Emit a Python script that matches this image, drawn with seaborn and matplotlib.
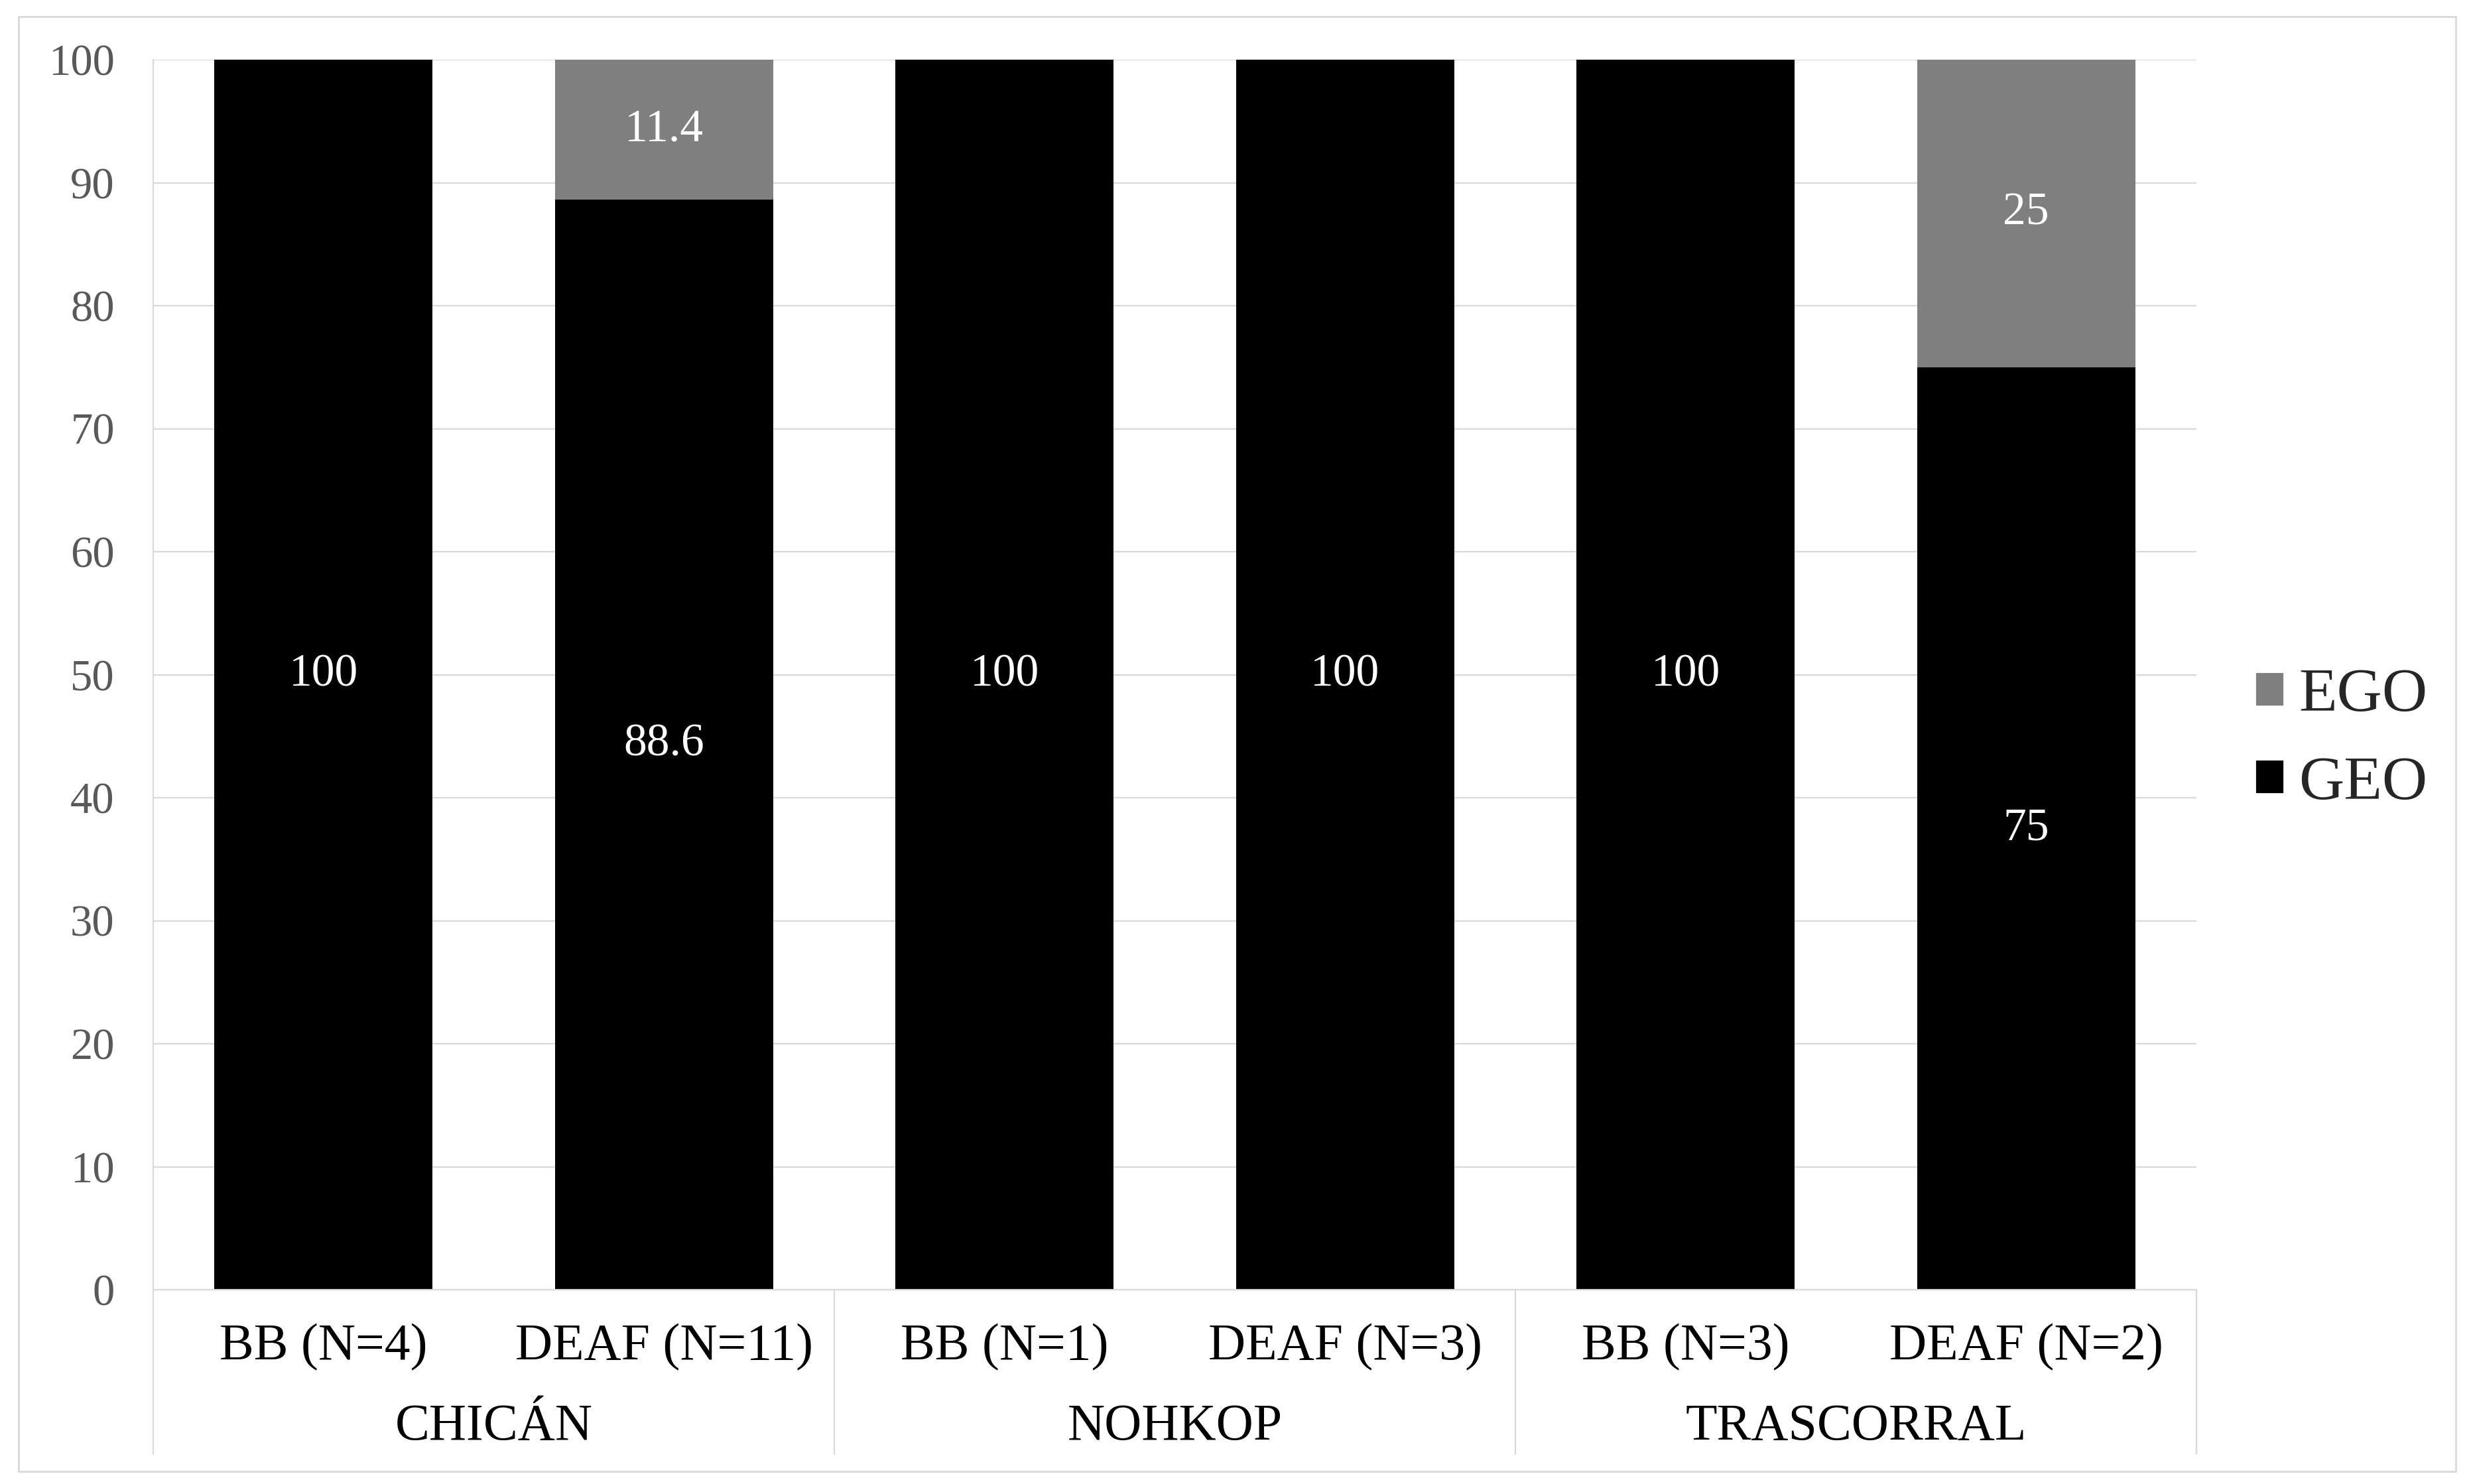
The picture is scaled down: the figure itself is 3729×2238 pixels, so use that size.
import matplotlib
matplotlib.use("Agg")
import pandas as pd
import seaborn as sns
import matplotlib.pyplot as plt
import matplotlib.transforms as mtransforms
from matplotlib.patches import Patch, Rectangle
from matplotlib.lines import Line2D

# data
groups = ["CHICÁN", "NOHKOP", "TRASCORRAL"]
labels = ["BB (N=4)", "DEAF (N=11)", "BB (N=1)", "DEAF (N=3)", "BB (N=3)", "DEAF (N=2)"]
group_of = ["CHICÁN", "CHICÁN", "NOHKOP", "NOHKOP", "TRASCORRAL", "TRASCORRAL"]
geo = [100, 88.6, 100, 100, 100, 75]
ego = [0, 11.4, 0, 0, 0, 25]
yticks = [0, 10, 20, 30, 40, 50, 60, 70, 80, 90, 100]

df = pd.DataFrame({"label": labels, "group": group_of, "GEO": geo, "EGO": ego})

sns.set_style("white")
plt.rcParams["font.family"] = ["Liberation Serif", "DejaVu Serif"]

W, H = 3730, 2238
fig = plt.figure(figsize=(W / 200, H / 200), dpi=200)
ax = fig.add_axes([231 / W, 1 - 1945 / H, (3312 - 231) / W, (1945 - 90) / H])

grid_col = "#d9d9d9"
geo_col = "#000000"
ego_col = "#7f7f7f"

sns.barplot(data=df, x="label", y="GEO", order=labels, color=geo_col, width=0.64,
            saturation=1, errorbar=None, linewidth=0, ax=ax)
sns.barplot(data=df, x="label", y="EGO", order=labels, color=ego_col, width=0.64,
            saturation=1, errorbar=None, linewidth=0, bottom=df["GEO"].values, ax=ax)

# value labels
geo_txt = [f"{v:g}" if v > 0 else "" for v in geo]
ego_txt = [f"{v:g}" if v > 0 else "" for v in ego]
ax.bar_label(ax.containers[0], labels=geo_txt, label_type="center", color="white", fontsize=25)
ax.bar_label(ax.containers[1], labels=ego_txt, label_type="center", color="white", fontsize=25)

ax.set_ylim(0, 100)
ax.set_xlim(-0.5, len(labels) - 0.5)
ax.set_yticks(yticks)
ax.set_xlabel("")
ax.set_ylabel("")
ax.yaxis.grid(True, color=grid_col, linewidth=0.8)
ax.set_axisbelow(True)
for s in ["top", "right", "left"]:
    ax.spines[s].set_visible(False)
ax.spines["bottom"].set_color(grid_col)
ax.spines["bottom"].set_linewidth(0.8)

ax.tick_params(axis="y", length=0, pad=21, labelsize=24, labelcolor="#595959")
ax.tick_params(axis="x", length=0, pad=31, labelsize=28, labelcolor="black")
for t in ax.get_xticklabels():
    t.set_va("center")

# multi-level category axis
low = -0.1335
trans = mtransforms.blended_transform_factory(ax.transData, ax.transAxes)
ax.add_line(Line2D([0, 0], [low, 1], transform=ax.transAxes, color=grid_col,
                   lw=0.8, clip_on=False))
for xb in [1.5, 3.5, 5.5]:
    ax.add_line(Line2D([xb, xb], [low, 0], transform=trans, color=grid_col,
                       lw=0.8, clip_on=False))
for g in groups:
    pos = [i for i, gg in enumerate(group_of) if gg == g]
    ax.text(sum(pos) / len(pos), -0.1115, g, transform=trans, ha="center",
            va="center", fontsize=28, color="black")

handles = [Patch(facecolor=ego_col, label="EGO"), Patch(facecolor=geo_col, label="GEO")]
fig.legend(handles=handles, loc="center left", bbox_to_anchor=(3400 / W, 1 - 1116 / H),
           frameon=False, fontsize=34, handlelength=0.47, handleheight=0.47,
           handletextpad=0.23, labelspacing=0.5, borderpad=0, borderaxespad=0)

fig.patches.append(Rectangle((28 / W, 1 - 2219 / H), (3703 - 28) / W, (2219 - 25) / H,
                             transform=fig.transFigure, facecolor="none",
                             edgecolor=grid_col, linewidth=1))

fig.savefig("out.png", dpi=200)
